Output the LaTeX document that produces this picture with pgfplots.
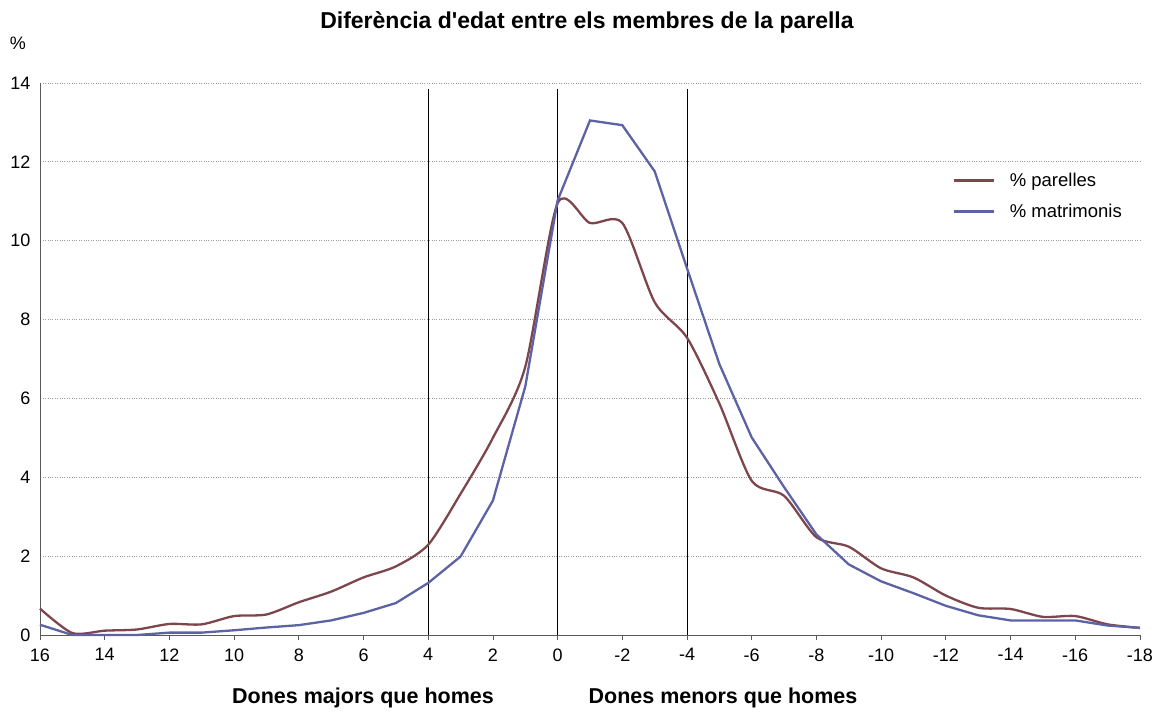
\documentclass[border=0pt]{standalone}
\usepackage{pgfplots}
\pgfplotsset{compat=1.18}
\usepackage{fontspec}
\setmainfont{Liberation Sans}
\definecolor{cpar}{RGB}{125,70,76}
\definecolor{cmat}{RGB}{92,98,163}
\begin{document}
\begin{tikzpicture}[x=1pt,y=1pt]
\path[use as bounding box] (-40,-80) rectangle (1112,635);
\begin{axis}[
  at={(0,0)}, anchor=south west,
  scale only axis, width=1100pt, height=552pt,
  x dir=reverse, xmin=-18, xmax=16, ymin=0, ymax=14,
  axis x line*=bottom, axis y line*=left,
  axis line style={gray!70!black, line width=0.8pt},
  xtick={-18,-16,...,16}, ytick={0,2,...,14},
  xticklabels={-18,-16,-14,-12,-10,-8,-6,-4,-2,0,2,4,6,8,10,12,14,16},
  tick align=outside, major tick length=5pt,
  ytick style={draw=none}, xtick style={gray!70!black, line width=0.8pt},
  ymajorgrids, grid style={gray!80, dotted, line width=0.8pt},
  /pgf/number format/assume math mode=true,
  tick label style={font=\fontsize{18}{20}\selectfont},
  yticklabel style={xshift=-1pt},
  xticklabel style={yshift=-5pt},
  clip=false,
  legend style={draw=none, fill=none, at={(axis cs:-12.2,11.77)}, anchor=north west,
    font=\fontsize{18.5}{20}\selectfont, row sep=12pt, inner sep=0pt,
    /tikz/every even column/.append style={column sep=0pt}},
  legend cell align=left,
  legend image code/.code={\draw[#1] (0pt,0pt) -- (40pt,0pt);},
]
\addplot[black, line width=0.7pt, forget plot] coordinates {(4,0) (4,13.85)};
\addplot[black, line width=0.7pt, forget plot] coordinates {(0,0) (0,13.85)};
\addplot[black, line width=0.7pt, forget plot] coordinates {(-4,0) (-4,13.85)};
\addplot[cpar, line width=2.3pt, smooth, tension=0.45] coordinates {
(16,0.67) (15,0.05) (14,0.11) (13,0.14) (12,0.28) (11,0.27) (10,0.48) (9,0.52)
(8,0.83) (7,1.10) (6,1.46) (5,1.74) (4,2.29) (3,3.58) (2,5.0) (1,6.8) (0,10.95)
(-1,10.45) (-2,10.45) (-3,8.44) (-4,7.54) (-5,5.87) (-6,3.91) (-7,3.53) (-8,2.48)
(-9,2.24) (-10,1.69) (-11,1.46) (-12,1.0) (-13,0.69) (-14,0.66) (-15,0.46)
(-16,0.48) (-17,0.27) (-18,0.18)};
\addlegendentry{\hspace{13pt}\% parelles}
\addplot[cmat, line width=2.3pt] coordinates {
(16,0.26) (15,0.0) (14,0.0) (13,0.0) (12,0.06) (11,0.06) (10,0.12) (9,0.19)
(8,0.25) (7,0.37) (6,0.56) (5,0.81) (4,1.32) (3,1.99) (2,3.41) (1,6.30) (0,11.02)
(-1,13.05) (-2,12.93) (-3,11.76) (-4,9.3) (-5,6.87) (-6,5.01) (-7,3.75) (-8,2.55)
(-9,1.79) (-10,1.36) (-11,1.06) (-12,0.74) (-13,0.50) (-14,0.37) (-15,0.37)
(-16,0.37) (-17,0.24) (-18,0.18)};
\addlegendentry{\hspace{13pt}\% matrimonis}
\end{axis}
\node[font=\fontsize{23}{25}\selectfont\bfseries] at (547,613) {Diferència d\textquotesingle edat entre els membres de la parella};
\node[font=\fontsize{18}{20}\selectfont] at (-22,592) {\%};
\node[font=\fontsize{21.5}{23}\selectfont\bfseries] at (323,-63) {Dones majors que homes};
\node[font=\fontsize{21.5}{23}\selectfont\bfseries] at (683,-63) {Dones menors que homes};
\end{tikzpicture}
\end{document}
